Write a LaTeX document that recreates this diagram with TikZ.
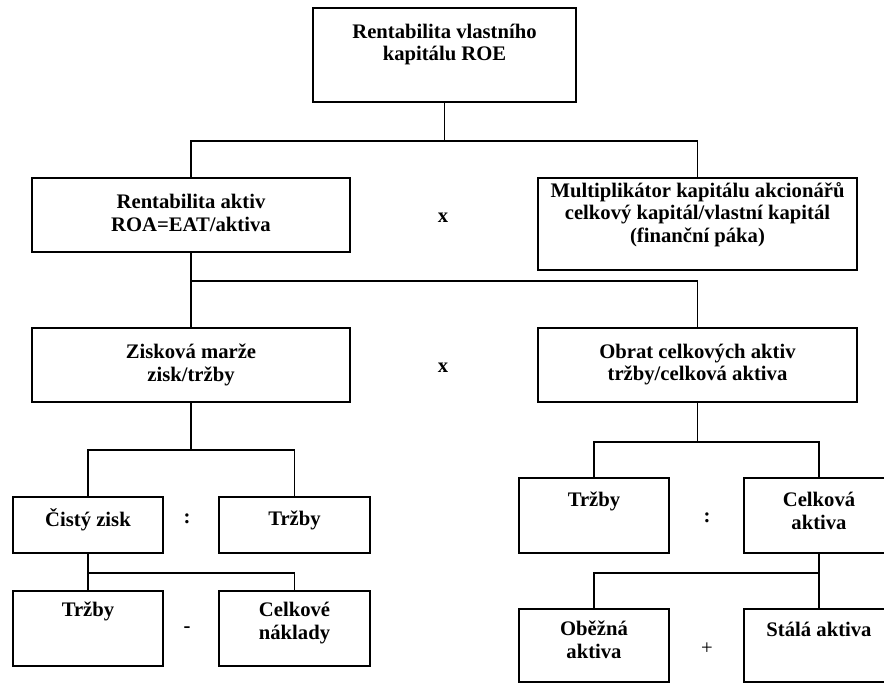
\documentclass[tikz,border=0pt]{standalone}
\usepackage{fontspec}
\setmainfont{Liberation Serif}
\usepackage{tikz}
\usetikzlibrary{positioning}

\begin{document}
\begin{tikzpicture}[
    x=0.75pt, y=-0.75pt,
    box/.style 2 args={draw, line width=1.5pt, minimum width=#1*0.75pt,
                       minimum height=#2*0.75pt, inner sep=0pt},
    lbl/.style={align=center, inner sep=0pt,
                font=\fontsize{15.5}{17}\selectfont\bfseries},
    op/.style={font=\fontsize{15.5}{17}\selectfont\bfseries, inner sep=0pt},
    link/.style={line width=1.25pt}
]
    \clip (0,0) rectangle (884,684);

    % Level 0
    \node[box={263}{94}] (roe) at (444.5,55) {};
    \node[lbl, below=12.5pt of roe.north] (roet) {Rentabilita vlastního\\kapitálu ROE};

    % Level 1
    \node[box={318}{74}] (roa) at (191,215) {};
    \node[lbl, below=13pt of roa.north] (roat) {Rentabilita aktiv\\ROA=EAT/aktiva};
    \node[box={319}{92}] (mult) at (697.5,224) {};
    \node[lbl, below=3.75pt of mult.north] (multt) {Multiplikátor kapitálu akcionářů\\celkový kapitál/vlastní kapitál\\(finanční páka)};

    % Level 2
    \node[box={318}{74}] (marze) at (191,365) {};
    \node[lbl, below=12.5pt of marze.north] (marzet) {Zisková marže\\zisk/tržby};
    \node[box={319}{74}] (obrat) at (697.5,365) {};
    \node[lbl, below=12.5pt of obrat.north] (obratt) {Obrat celkových aktiv\\tržby/celková aktiva};

    % Level 3 left
    \node[box={150}{56}] (zisk) at (88,525) {};
    \node[lbl, below=9pt of zisk.north] (ziskt) {Čistý zisk};
    \node[box={151}{56}] (trzl) at (294.5,525) {};
    \node[lbl, below=11.25pt of trzl.north] (trzlt) {Tržby};

    % Level 4 left
    \node[box={150}{75}] (trzb) at (88,628.5) {};
    \node[lbl, below=9pt of trzb.north] (trzbt) {Tržby};
    \node[box={151}{75}] (nakl) at (294.5,628.5) {};
    \node[lbl, below=9pt of nakl.north] (naklt) {Celkové\\náklady};

    % Level 3 right
    \node[box={150}{75}] (trzr) at (594,515.5) {};
    \node[lbl, below=11.25pt of trzr.north] (trzrt) {Tržby};
    \node[box={150}{75}] (akt) at (819,515.5) {};
    \node[lbl, below=11.25pt of akt.north] (aktt) {Celková\\aktiva};

    % Level 4 right
    \node[box={150}{73}] (obez) at (594,645.5) {};
    \node[lbl, below=9.75pt of obez.north] (obezt) {Oběžná\\aktiva};
    \node[box={150}{73}] (stal) at (819,645.5) {};
    \node[lbl, below=10.5pt of stal.north] (stalt) {Stálá aktiva};

    % Operators
    \node[op] (x1) at (443,218) {x};
    \node[op] (x2) at (443,368) {x};
    \node[op] (d1) at (187,519) {:};
    \node[op] (m1) at (187,630) {-};
    \node[op] (d2) at (707,518) {:};
    \node[font=\fontsize{15.5}{17}\selectfont, inner sep=0pt] (p1) at (707,649) {+};

    % Connectors
    \draw[link] (roe.south) -- ++(0,38) coordinate (j0);
    \draw[link] (roa.north) |- (j0) -| (mult.north);
    \draw[link] (roa.south) -- (marze.north);
    \draw[link] (roa.south) ++(0,28) coordinate (j1) -| (obrat.north);
    \draw[link] (marze.south) -- ++(0,47) coordinate (j2);
    \draw[link] (zisk.north) |- (j2) -| (trzl.north);
    \draw[link] (zisk.south) -- ++(0,19) coordinate (j3);
    \draw[link] (trzb.north) -- (j3) -| (nakl.north);
    \draw[link] (obrat.south) -- ++(0,39) coordinate (j4);
    \draw[link] (trzr.north) |- (j4) -| (akt.north);
    \draw[link] (akt.south) -- ++(0,19) coordinate (j5);
    \draw[link] (obez.north) |- (j5) -- (stal.north);
\end{tikzpicture}
\end{document}
